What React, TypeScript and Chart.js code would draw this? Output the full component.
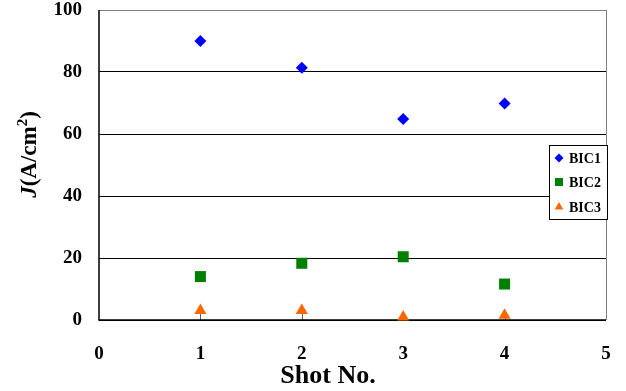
import React, { useEffect, useRef } from "react";
import { Chart, registerables } from "chart.js";
Chart.register(...registerables);

const shots = [1, 2, 3, 4];
const seriesNames = ["BIC1", "BIC2", "BIC3"];
const bic1 = [90, 81.4, 64.8, 69.8];
const bic2 = [14.0, 18.3, 20.4, 11.6];
const bic3 = [3.1, 3.1, 1.0, 1.5];
const xTickValues = [0, 1, 2, 3, 4, 5];
const yTickValues = [0, 20, 40, 60, 80, 100];
const colors = ["#0000FF", "#008000", "#FF6600"];
const shapes = ["rectRot", "rect", "triangle"];

const SERIF = "'Liberation Serif', 'Times New Roman', serif";

function drawMarker(ctx: CanvasRenderingContext2D, shape: string, x: number, y: number, r: number) {
  ctx.beginPath();
  if (shape === "rectRot") {
    ctx.moveTo(x, y - r);
    ctx.lineTo(x + r, y);
    ctx.lineTo(x, y + r);
    ctx.lineTo(x - r, y);
  } else if (shape === "rect") {
    ctx.rect(x - r, y - r, 2 * r, 2 * r);
  } else {
    ctx.moveTo(x, y - r);
    ctx.lineTo(x + r * 0.866, y + r / 2);
    ctx.lineTo(x - r * 0.866, y + r / 2);
  }
  ctx.closePath();
  ctx.fill();
}

const framePlugin = {
  id: "frame",
  beforeDatasetsDraw(chart: any) {
    const { ctx, chartArea } = chart;
    const xs = chart.scales.x;
    ctx.save();
    ctx.strokeStyle = "#606060";
    ctx.lineWidth = 1;
    for (const v of shots) {
      const px = Math.round(xs.getPixelForValue(v)) + 0.5;
      ctx.beginPath();
      ctx.moveTo(px, chartArea.bottom - 7);
      ctx.lineTo(px, chartArea.bottom);
      ctx.stroke();
    }
    ctx.strokeStyle = "#808080";
    ctx.beginPath();
    ctx.moveTo(chartArea.right + 0.5, chartArea.top);
    ctx.lineTo(chartArea.right + 0.5, chartArea.bottom);
    ctx.stroke();
    ctx.strokeStyle = "#000";
    ctx.lineWidth = 1.5;
    ctx.beginPath();
    ctx.moveTo(chartArea.left, chartArea.top);
    ctx.lineTo(chartArea.left, chartArea.bottom);
    ctx.lineTo(chartArea.right, chartArea.bottom);
    ctx.stroke();
    ctx.restore();
  },
  afterDraw(chart: any) {
    const { ctx } = chart;
    ctx.save();
    ctx.fillStyle = "#000";
    ctx.font = `bold 26px ${SERIF}`;
    ctx.textAlign = "center";
    ctx.textBaseline = "alphabetic";
    ctx.fillText("Shot No.", 328, 383);

    ctx.translate(36, 154.5);
    ctx.rotate(-Math.PI / 2);
    const parts = [
      { t: "J", f: `italic bold 23px ${SERIF}`, dy: 0 },
      { t: "(A/cm", f: `bold 23px ${SERIF}`, dy: 0 },
      { t: "2", f: `bold 15px ${SERIF}`, dy: -9 },
      { t: ")", f: `bold 23px ${SERIF}`, dy: 0 },
    ];
    let total = 0;
    for (const p of parts) {
      ctx.font = p.f;
      total += ctx.measureText(p.t).width;
    }
    let cx = -total / 2;
    ctx.textAlign = "left";
    for (const p of parts) {
      ctx.font = p.f;
      ctx.fillText(p.t, cx, p.dy);
      cx += ctx.measureText(p.t).width;
    }
    ctx.restore();

    ctx.save();
    const lx = 549, ly = 145, lw = 58, lh = 74;
    ctx.fillStyle = "#fff";
    ctx.fillRect(lx, ly, lw, lh);
    ctx.strokeStyle = "#000";
    ctx.lineWidth = 1;
    ctx.strokeRect(lx + 0.5, ly + 0.5, lw, lh);
    const rows = [158, 182, 207];
    const sizes = [4.5, 4, 5];
    ctx.font = `bold 14px ${SERIF}`;
    ctx.textBaseline = "middle";
    ctx.textAlign = "left";
    seriesNames.forEach((name, i) => {
      ctx.fillStyle = colors[i];
      drawMarker(ctx, shapes[i], 559, rows[i], sizes[i]);
      ctx.fillStyle = "#000";
      ctx.fillText(name, 569, rows[i] + 1);
    });
    ctx.restore();
  },
};

export default function App() {
  const ref = useRef<HTMLCanvasElement | null>(null);
  useEffect(() => {
    if (!ref.current) return;
    const mk = (i: number, vals: number[], radius: number) => ({
      label: seriesNames[i],
      data: shots.map((s, k) => ({ x: s, y: vals[k] })),
      showLine: false,
      pointStyle: shapes[i] as any,
      pointRadius: radius,
      pointBackgroundColor: colors[i],
      pointBorderColor: colors[i],
      pointBorderWidth: 0,
      backgroundColor: colors[i],
      borderColor: colors[i],
      clip: false as any,
    });
    const chart = new Chart(ref.current, {
      type: "scatter",
      data: {
        datasets: [mk(0, bic1, 6), mk(1, bic2, 7.8), mk(2, bic3, 7)],
      },
      plugins: [framePlugin],
      options: {
        animation: false,
        responsive: false,
        devicePixelRatio: 1,
        layout: { padding: { top: 10, right: 20, left: 0, bottom: 0 } },
        plugins: { legend: { display: false }, tooltip: { enabled: false } },
        scales: {
          x: {
            type: "linear",
            min: 0,
            max: 5,
            afterBuildTicks: (s: any) => {
              s.ticks = xTickValues.map((v) => ({ value: v }));
            },
            afterFit: (s: any) => {
              s.height = 71;
              s.paddingLeft = 0;
              s.paddingRight = 0;
            },
            grid: { display: false, drawTicks: false },
            border: { display: false },
            ticks: {
              padding: 23,
              color: "#000",
              font: { family: SERIF, size: 19, weight: "bold" },
            },
          },
          y: {
            type: "linear",
            min: 0,
            max: 100,
            afterBuildTicks: (s: any) => {
              s.ticks = yTickValues.map((v) => ({ value: v }));
            },
            afterFit: (s: any) => {
              s.width = 99;
              s.paddingTop = 0;
              s.paddingBottom = 0;
            },
            grid: {
              drawTicks: false,
              color: (c: any) => (c.tick && c.tick.value === 100 ? "#808080" : "#000"),
              lineWidth: 1,
            },
            border: { display: false },
            ticks: {
              padding: 17,
              color: "#000",
              font: { family: SERIF, size: 19, weight: "bold" },
            },
          },
        },
      },
    });
    return () => chart.destroy();
  }, []);
  return (
    <div style={{ position: "fixed", left: 0, top: 0, width: 626, height: 391, background: "#fff" }}>
      <canvas ref={ref} width={626} height={391} />
    </div>
  );
}
